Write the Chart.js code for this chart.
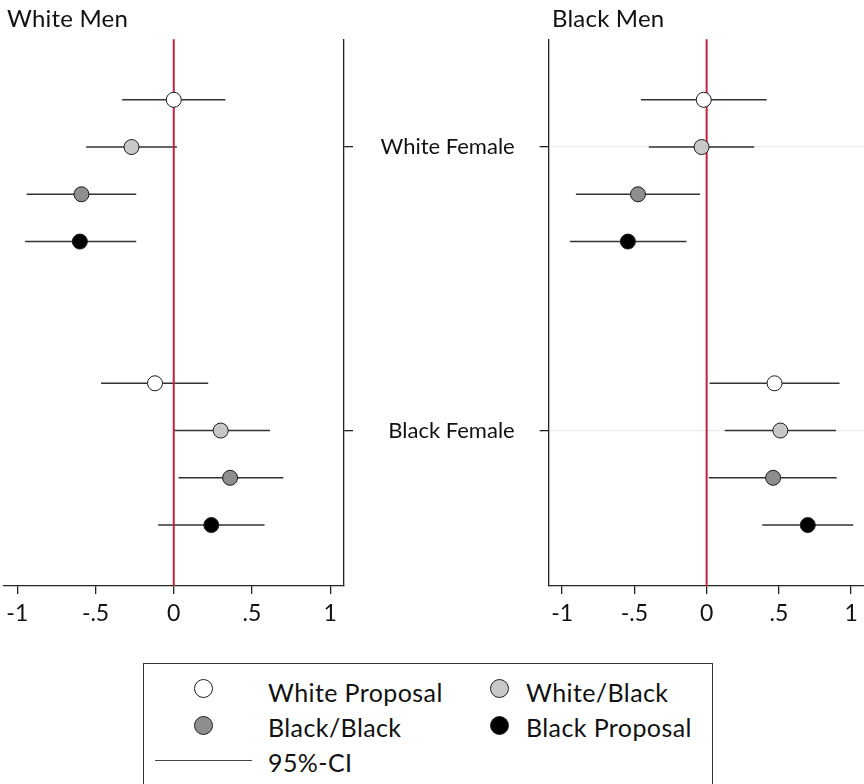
<!DOCTYPE html>
<html>
<head>
<meta charset="utf-8">
<script src="https://cdn.jsdelivr.net/npm/chart.js@4.4.1/dist/chart.umd.min.js"></script>
<style>
    body { margin: 0; background: #ffffff; font-family: Lato, "Open Sans", sans-serif; color: #111; }
    #wrap { position: relative; width: 864px; height: 784px; overflow: hidden; }
    canvas { position: absolute; top: 0; }
    .title { position: absolute; top: 3px; font-size: 24px; letter-spacing: 0.2px; }
    #legendBox { position: absolute; left: 143px; top: 663px; width: 570px; height: 140px; border: 1.5px solid #333; box-sizing: border-box; }
    .lg-item { position: absolute; font-size: 25px; line-height: 28px; letter-spacing: 0.4px; white-space: nowrap; }
    .lg-dot { position: absolute; width: 17px; height: 17px; border-radius: 50%; border: 1px solid #222; }
    .lg-line { position: absolute; height: 0; border-top: 1.8px solid #444; }
</style>
</head>
<body>
<div id="wrap">
    <canvas id="leftChart" width="360" height="640" style="left:0px"></canvas>
    <canvas id="rightChart" width="504" height="640" style="left:360px"></canvas>
    <div class="title" style="left:7px">White Men</div>
    <div class="title" style="left:552px">Black Men</div>
    <div id="legendBox"></div>
</div>
<script>
// chart data
const panels = ["White Men", "Black Men"];
const groups = ["White Female", "Black Female"];
const seriesNames = ["White Proposal", "White/Black", "Black/Black", "Black Proposal"];
const seriesColors = ["#ffffff", "#c8c8c8", "#8e8e8e", "#000000"];
const xTicks = [-1, -0.5, 0, 0.5, 1];
const xTickLabels = ["-1", "-.5", "0", ".5", "1"];

// estimates per group (White Female, Black Female), in series order
const whiteMenEst = [[0, -0.27, -0.59, -0.60], [-0.12, 0.30, 0.36, 0.24]];
const whiteMenLo  = [[-0.33, -0.56, -0.94, -0.95], [-0.465, 0.0, 0.03, -0.10]];
const whiteMenHi  = [[0.33, 0.02, -0.24, -0.24], [0.22, 0.615, 0.70, 0.58]];

const blackMenEst = [[-0.02, -0.035, -0.475, -0.545], [0.47, 0.51, 0.46, 0.70]];
const blackMenLo  = [[-0.455, -0.40, -0.905, -0.945], [0.02, 0.125, 0.015, 0.385]];
const blackMenHi  = [[0.415, 0.33, -0.045, -0.14], [0.92, 0.895, 0.90, 1.015]];

// row of a coefficient: groups stacked top to bottom with a gap of two rows
function rowOf(g, s) { return g * 6 + s + 1; }
function groupRow(g) { return g * 6 + 2; }

function buildDatasets(est, lo, hi) {
    const sets = [];
    seriesNames.forEach((name, s) => {
        sets.push({
            label: name,
            type: "scatter",
            data: groups.map((grp, g) => ({ x: est[g][s], y: rowOf(g, s) })),
            pointRadius: 7.5,
            pointHoverRadius: 7.5,
            backgroundColor: seriesColors[s],
            borderColor: "#1a1a1a",
            borderWidth: 1,
            order: 0
        });
    });
    seriesNames.forEach((name, s) => {
        const pts = [];
        groups.forEach((grp, g) => {
            pts.push({ x: lo[g][s], y: rowOf(g, s) });
            pts.push({ x: hi[g][s], y: rowOf(g, s) });
            pts.push({ x: null, y: null });
        });
        sets.push({
            label: "95%-CI " + name,
            type: "scatter",
            data: pts,
            showLine: true,
            spanGaps: false,
            pointRadius: 0,
            borderColor: "#333333",
            borderWidth: 1.5,
            order: 2
        });
    });
    sets.push({
        label: "zero",
        type: "scatter",
        data: [{ x: 0, y: -1 }, { x: 0, y: 13 }],
        showLine: true,
        pointRadius: 0,
        borderColor: "#c8203c",
        borderWidth: 2,
        order: 1
    });
    return sets;
}

function makeChart(id, est, lo, hi, opts) {
    const ctx = document.getElementById(id).getContext("2d");
    return new Chart(ctx, {
        type: "scatter",
        data: { datasets: buildDatasets(est, lo, hi) },
        options: {
            responsive: false,
            animation: false,
            layout: { autoPadding: false, padding: { top: 39.3, left: opts.padLeft, right: 0, bottom: 0 } },
            plugins: { legend: { display: false }, tooltip: { enabled: false } },
            scales: {
                x: {
                    type: "linear",
                    min: opts.xMin,
                    max: opts.xMax,
                    afterBuildTicks: axis => { axis.ticks = xTicks.map(v => ({ value: v })); },
                    afterFit: axis => {
                        axis.height = 54;
                        axis.paddingLeft = 0;
                        axis.paddingRight = 0;
                    },
                    border: { display: true, color: "#222", width: 1.3 },
                    grid: { drawOnChartArea: false, tickLength: 8, color: "#222", lineWidth: 1.3 },
                    ticks: {
                        color: "#111",
                        padding: 6,
                        maxRotation: 0,
                        font: { family: "Lato", size: 23 },
                        callback: v => xTickLabels[xTicks.indexOf(v)]
                    }
                },
                y: {
                    type: "linear",
                    position: opts.yPos,
                    reverse: true,
                    min: -0.28,
                    max: 11.29,
                    afterBuildTicks: axis => { axis.ticks = groups.map((g, i) => ({ value: groupRow(i) })); },
                    afterFit: axis => { axis.width = opts.yWidth; },
                    border: { display: true, color: "#222", width: 1.3 },
                    grid: {
                        drawOnChartArea: opts.yGrid,
                        color: "#e4ecef",
                        tickColor: "#222",
                        tickLength: 9,
                        lineWidth: 1.3
                    },
                    ticks: {
                        display: opts.yLabels,
                        color: "#111",
                        padding: 25,
                        font: { family: "Lato", size: 22 },
                        callback: v => groups[(v - 2) / 6]
                    }
                }
            }
        }
    });
}

makeChart("leftChart", whiteMenEst, whiteMenLo, whiteMenHi,
    { xMin: -1.085, xMax: 1.088, yPos: "right", yWidth: 16, yGrid: false, yLabels: false, padLeft: 4 });
makeChart("rightChart", blackMenEst, blackMenLo, blackMenHi,
    { xMin: -1.093, xMax: 1.089, yPos: "left", yWidth: 188.7, yGrid: true, yLabels: true, padLeft: 0 });

// legend: two columns of markers, then the CI line
const wrap = document.getElementById("wrap");
const legendCells = [[0, 0], [0, 1], [1, 0], [1, 1]];
const legendDotX = [203, 499];
const legendTextX = [268, 526];
const legendDotY = [688, 725];
const legendTextY = [692.5, 728, 762.5];

function addEl(cls, left, top, text) {
    const el = document.createElement("div");
    el.className = cls;
    el.style.left = left + "px";
    el.style.top = top + "px";
    if (text) el.textContent = text;
    wrap.appendChild(el);
    return el;
}

seriesNames.forEach((name, s) => {
    const row = legendCells[s][0], col = legendCells[s][1];
    const dot = addEl("lg-dot", legendDotX[col] - 9.5, legendDotY[row] - 9.5);
    dot.style.background = seriesColors[s];
    addEl("lg-item", legendTextX[col], legendTextY[row] - 14.7, name);
});
const ciLine = addEl("lg-line", 155, 760);
ciLine.style.width = "97px";
addEl("lg-item", legendTextX[0], legendTextY[2] - 14.7, "95%-CI");
</script>
</body>
</html>
